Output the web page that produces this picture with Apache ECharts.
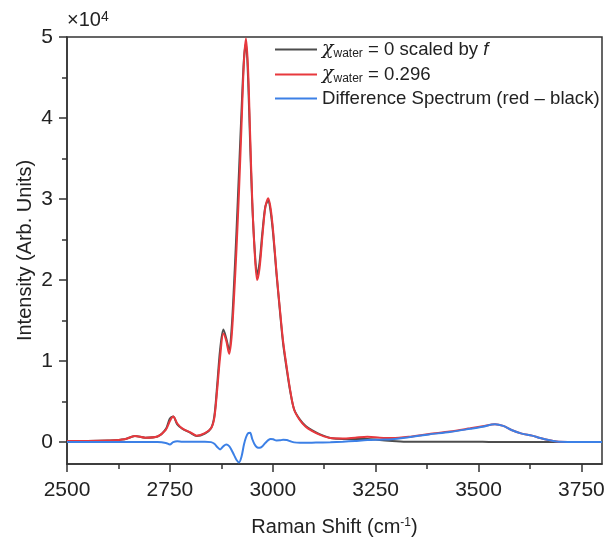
<!DOCTYPE html>
<html>
<head>
<meta charset="utf-8">
<script src="https://cdn.jsdelivr.net/npm/echarts@6/dist/echarts.min.js"></script>
<style>
  html, body { margin: 0; padding: 0; background: #fff; }
  #chart { width: 605px; height: 541px; }
</style>
</head>
<body>
<div id="chart"></div>
<script>
// Raman shift (cm-1) sample points
const ramanShift = [2500, 2550, 2600, 2640, 2665, 2690, 2720, 2740, 2750, 2758, 2768, 2780, 2800, 2815, 2835, 2850,
  2858, 2865, 2872, 2880, 2887, 2894, 2900, 2906, 2912, 2918, 2924, 2930, 2935, 2940, 2945, 2950, 2956, 2962, 2968,
  2975, 2982, 2989, 2995, 3001, 3009, 3017, 3025, 3034, 3043, 3052, 3066, 3080, 3095, 3115, 3140, 3170, 3200, 3230,
  3260, 3290, 3330, 3380, 3430, 3480, 3510, 3540, 3560, 3580, 3605, 3630, 3650, 3670, 3690, 3720, 3760, 3800]

// chi_water = 0 scaled by f
const dryScaled = [150, 150, 200, 350, 750, 550, 700, 1600, 2900, 3150, 2180, 1650, 1150, 750, 1050, 1700,
  3200, 7100, 11400, 13900, 12800, 11400, 14000, 19600, 26200, 33500, 40800, 47300, 49200, 44900, 36850, 29600, 23800, 20650, 22200,
  26000, 29100, 29850, 28400, 25650, 20800, 16380, 12220, 8950, 6100, 4030, 2780, 1980, 1470, 950, 520, 400, 400, 400,
  250, 150, 50, 50, 50, 50, 50, 0, 0, 0, 0, 0, 0, 0, 0, 0, 0, 0]

// chi_water = 0.296
const wet = [150, 150, 200, 350, 750, 550, 700, 1500, 2600, 3150, 2300, 1700, 1200, 800, 1100, 1700,
  3000, 6500, 10500, 13400, 12500, 10900, 13000, 18000, 24000, 31000, 39000, 47000, 49800, 46000, 38000, 30000, 23500, 20000, 21500,
  25500, 29000, 30100, 28800, 26000, 21000, 16600, 12500, 9200, 6200, 4000, 2700, 1900, 1400, 900, 500, 450, 550, 650,
  550, 500, 650, 1000, 1300, 1700, 1950, 2200, 2000, 1500, 1050, 800, 500, 250, 80, 20, 0, 0]

// difference spectrum (red - black)
const diff = [0, 0, 0, 0, 0, 0, 0, -100, -300, 0, 120, 50, 50, 50, 50, 0,
  -200, -600, -900, -500, -300, -500, -1000, -1600, -2200, -2500, -1800, -300, 600, 1100, 1150, 400, -300, -650, -700,
  -500, -100, 250, 400, 350, 200, 220, 280, 250, 100, -30, -80, -80, -70, -50, -20, 50, 150, 250,
  300, 350, 600, 950, 1250, 1650, 1900, 2200, 2000, 1500, 1050, 800, 500, 250, 80, 20, 0, 0]

const xMajor = [2500, 2750, 3000, 3250, 3500, 3750]
const xMinor = [2625, 2875, 3125, 3375, 3625]
const yMajor = [0, 10000, 20000, 30000, 40000, 50000]
const yMinor = [5000, 15000, 25000, 35000, 45000]

const names = ['dry', 'wet', 'diff']
const colors = ['#4d4d4d', '#e8383d', '#3c80e6']

const font = 'Liberation Sans'
const pair = (ys) => ramanShift.map((x, i) => [x, ys[i]])

const chart = echarts.init(document.getElementById('chart'))

const axisCol = '#333'

chart.setOption({
  animation: false,
  textStyle: { fontFamily: font },
  grid: { left: 67, right: 3, top: 37, bottom: 77, outerBoundsMode: 'none', show: true, borderColor: axisCol, borderWidth: 1.5 },
  xAxis: [{
    type: 'value', min: 2500, max: 3800,
    name: '{t|Raman Shift (cm}{s|-1}{t|)}', nameLocation: 'middle', nameGap: 53, nameMoveOverlap: false,
    nameTextStyle: { rich: { t: { fontSize: 20, color: '#222', fontFamily: font }, s: { fontSize: 12, color: '#222', verticalAlign: 'top', lineHeight: 12, fontFamily: font } } },
    axisLine: { onZero: false, lineStyle: { color: axisCol, width: 1.5 } },
    axisTick: { customValues: xMajor, length: 8, lineStyle: { color: axisCol, width: 1.5 } },
    axisLabel: { customValues: xMajor, fontSize: 21, color: '#222', margin: 16, formatter: (v) => String(v) },
    splitLine: { show: false }
  }, {
    type: 'value', min: 2500, max: 3800, position: 'bottom',
    axisLine: { show: false, onZero: false },
    axisTick: { customValues: xMinor, length: 5, lineStyle: { color: axisCol, width: 1.5 } },
    axisLabel: { show: false },
    splitLine: { show: false }
  }],
  yAxis: [{
    type: 'value', min: -2700, max: 50000,
    name: 'Intensity (Arb. Units)', nameLocation: 'middle', nameGap: 32, nameMoveOverlap: false,
    nameTextStyle: { fontSize: 20, color: '#222' },
    axisLine: { show: true, onZero: false, lineStyle: { color: axisCol, width: 1.5 } },
    axisTick: { show: true, customValues: yMajor, length: 8, lineStyle: { color: axisCol, width: 1.5 } },
    axisLabel: { customValues: yMajor, fontSize: 21, color: '#222', margin: 14, formatter: (v) => String(v / 10000) },
    splitLine: { show: false }
  }, {
    type: 'value', min: -2700, max: 50000, position: 'left',
    axisLine: { show: false, onZero: false },
    axisTick: { show: true, customValues: yMinor, length: 5, lineStyle: { color: axisCol, width: 1.5 } },
    axisLabel: { show: false },
    splitLine: { show: false }
  }],
  legend: {
    orient: 'vertical', left: 270, top: 34, itemGap: 4,
    itemWidth: 42, itemHeight: 2, icon: 'rect',
    data: names,
    formatter: (n) => {
      if (n === 'dry') return '{c|χ}{sub|water}{t| = 0 scaled by }{i|f}'
      if (n === 'wet') return '{c|χ}{sub|water}{t| = 0.296}'
      return '{t|Difference Spectrum (red – black)}'
    },
    textStyle: {
      rich: {
        c: { fontSize: 19, lineHeight: 21, fontFamily: 'DejaVu Serif', fontStyle: 'italic', color: '#222' },
        sub: { fontSize: 12, lineHeight: 21, verticalAlign: 'bottom', padding: [9, 0, 0, 0], color: '#222' },
        t: { fontSize: 18.6, lineHeight: 21, color: '#222' },
        i: { fontSize: 18.6, lineHeight: 21, fontStyle: 'italic', color: '#222' }
      }
    }
  },
  graphic: [{
    type: 'text', left: 67, top: 10,
    style: {
      text: '×10{s|4}', fontSize: 20, fill: '#222', fontFamily: font,
      rich: { s: { fontSize: 14, verticalAlign: 'top', fill: '#222', fontFamily: font } }
    }
  }],
  series: [
    { name: 'dry', type: 'line', data: pair(dryScaled), showSymbol: false, smooth: 0.3, lineStyle: { color: colors[0], width: 2 }, itemStyle: { color: colors[0] } },
    { name: 'wet', type: 'line', data: pair(wet), showSymbol: false, smooth: 0.3, lineStyle: { color: colors[1], width: 2 }, itemStyle: { color: colors[1] } },
    { name: 'diff', type: 'line', data: pair(diff), showSymbol: false, smooth: 0.3, lineStyle: { color: colors[2], width: 2 }, itemStyle: { color: colors[2] } }
  ]
})
</script>
</body>
</html>
